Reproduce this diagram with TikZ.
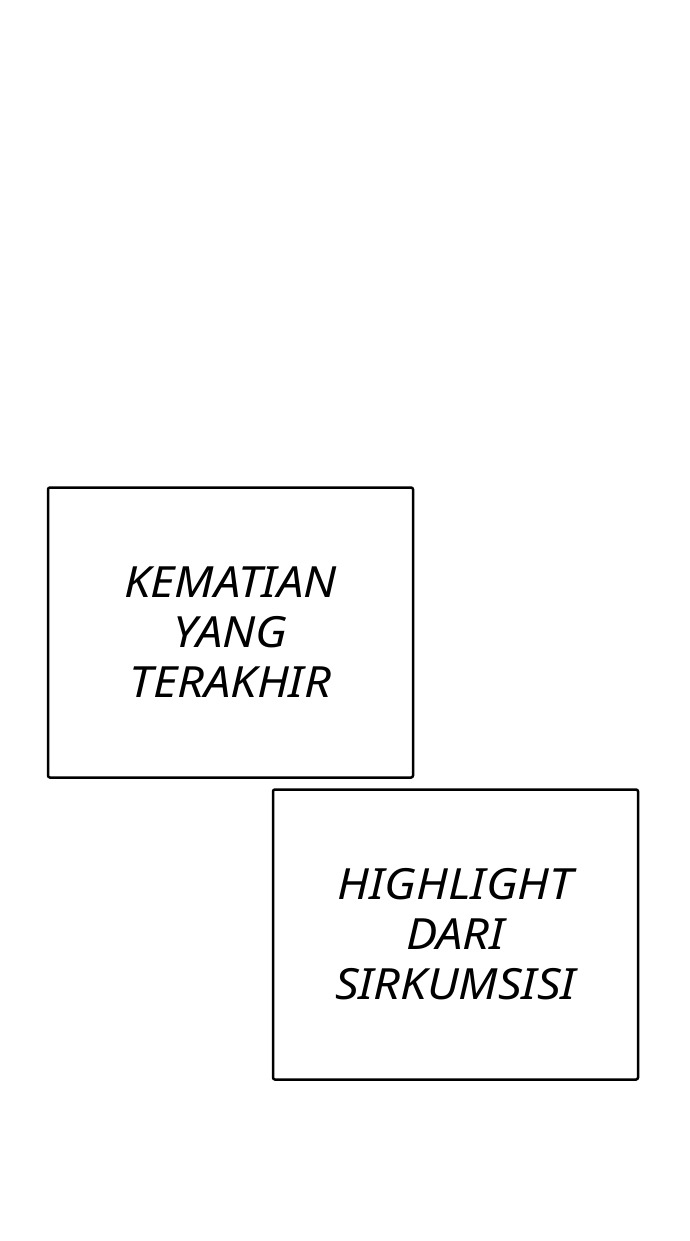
\documentclass[tikz,border=0pt]{standalone}
\usepackage{fontspec}
\setmainfont{Noto Sans}
\newfontfamily\panelfont{Noto Sans}[FakeStretch=1.09]
\begin{document}
\begin{tikzpicture}[x=1pt,y=-1pt,
  panel/.style={draw=black, line width=2.5pt, rounded corners=2pt, minimum width=365pt, minimum height=290pt, inner sep=0pt, align=center, font=\panelfont\fontsize{43}{50}\selectfont\itshape}]
\useasboundingbox[fill=white] (0,0) rectangle (690,1241);
\node[panel] (box1) at (230.5,632.5) {KEMATIAN\\YANG\\TERAKHIR};
\node[panel] (box2) at (455.5,934.5) {HIGHLIGHT\\DARI\\SIRKUMSISI};
\end{tikzpicture}
\end{document}
